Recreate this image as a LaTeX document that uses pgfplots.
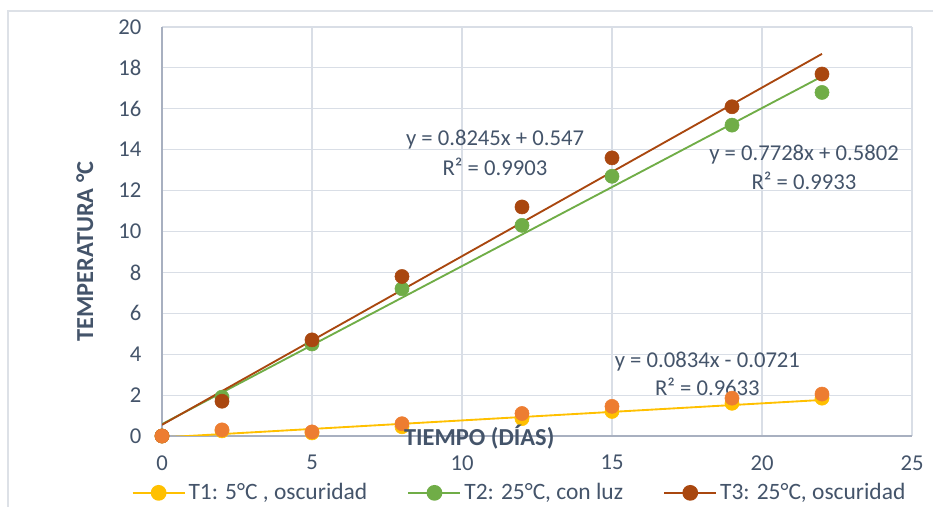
\documentclass[border=0pt]{standalone}
\usepackage{fontspec}
\setmainfont{Carlito}
\usepackage{pgfplots}
\pgfplotsset{compat=1.18}
\definecolor{cyellow}{HTML}{FFC000}
\definecolor{corange}{HTML}{ED7D31}
\definecolor{cgreen}{HTML}{70AD47}
\definecolor{cbrown}{HTML}{A9470F}
\definecolor{ctext}{HTML}{44546A}
\definecolor{cgrid}{HTML}{D9DEE6}
\definecolor{caxis}{HTML}{A8B0C0}
\definecolor{cframe}{HTML}{DDE1E7}
\begin{document}
\begin{tikzpicture}
\useasboundingbox (0,0) rectangle (699.75pt,380.25pt);
\draw[color=cframe, line width=0.8pt] (6pt,-5pt) -- (6pt,372pt) -- (710pt,372pt);
\begin{axis}[
  at={(121.5pt,53.25pt)}, anchor=south west,
  scale only axis, width=562.5pt, height=306.75pt,
  xmin=0, xmax=25, ymin=0, ymax=20,
  xtick={0,5,...,25}, ytick={0,2,...,20},
  axis lines=left,
  axis line style={color=caxis, line width=0.8pt, -},
  major tick length=0pt,
  grid=major,
  major grid style={color=cgrid, line width=0.8pt},
  ticklabel style={font=\fontsize{17}{20}\selectfont, text=ctext},
  /pgf/number format/assume math mode=true,
  xticklabel style={yshift=-11pt},
  yticklabel style={xshift=-12pt},
  xlabel={\textbf{TIEMPO (DÍAS)}},
  xlabel style={at={(axis description cs:0.423,-0.003)}, anchor=center, font=\fontsize{18.3}{20}\selectfont, text=ctext},
  ylabel={\textbf{TEMPERATURA °C}},
  ylabel style={at={(axis description cs:-0.103,0.451)}, anchor=center, rotate=0, font=\fontsize{18.3}{20}\selectfont, text=ctext},
  legend style={at={(axis description cs:0.477,-0.139)}, anchor=center, draw=none, fill=none,
    font=\fontsize{17.6}{20}\selectfont, text=ctext, /tikz/every even column/.append style={column sep=28pt}},
  legend columns=3,
  legend image code/.code={\draw[mark repeat=2,mark phase=2] plot coordinates {(0pt,0pt) (19.5pt,0pt) (39pt,0pt)};},
]
% markers
\addplot[only marks, mark=*, mark size=5.3pt, color=cyellow, forget plot] coordinates {
(0,0) (2,0.25) (5,0.15) (8,0.45) (12,0.85) (15,1.2) (19,1.6) (22,1.85)};
\addplot[only marks, mark=*, mark size=5.3pt, color=cgreen, forget plot] coordinates {
(0,0) (2,1.9) (5,4.5) (8,7.2) (12,10.3) (15,12.7) (19,15.2) (22,16.8)};
\addplot[only marks, mark=*, mark size=5.3pt, color=cbrown, forget plot] coordinates {
(0,0) (2,1.7) (5,4.7) (8,7.8) (12,11.2) (15,13.6) (19,16.1) (22,17.7)};
\addplot[only marks, mark=*, mark size=5.3pt, color=corange, forget plot] coordinates {
(0,0) (2,0.3) (5,0.2) (8,0.6) (12,1.1) (15,1.45) (19,1.85) (22,2.05)};
% trendlines
\addplot[color=cyellow, line width=1.4pt, forget plot] coordinates {(0,-0.0721) (22,1.7627)};
\addplot[color=cgreen, line width=1.4pt, forget plot] coordinates {(0,0.5802) (22,17.5818)};
\addplot[color=cbrown, line width=1.4pt, forget plot] coordinates {(0,0.547) (22,18.686)};
% legend
\addlegendimage{color=cyellow, line width=1.8pt, mark=*, mark size=5pt}
\addlegendentry{T1: 5°C , oscuridad}
\addlegendimage{color=cgreen, line width=1.8pt, mark=*, mark size=5pt}
\addlegendentry{T2: 25°C, con luz}
\addlegendimage{color=cbrown, line width=1.8pt, mark=*, mark size=5pt}
\addlegendentry{T3: 25°C, oscuridad}
% equations
\node[align=center, text=ctext, font=\fontsize{17}{22.5}\selectfont] at (axis cs:11.1,13.84) {y = 0.8245x + 0.547\\R² = 0.9903};
\node[align=center, text=ctext, font=\fontsize{17}{22}\selectfont] at (axis cs:21.4,13.13) {y = 0.7728x + 0.5802\\R² = 0.9933};
\node[align=center, text=ctext, font=\fontsize{17}{21}\selectfont] at (axis cs:18.18,3.03) {y = 0.0834x - 0.0721\\R² = 0.9633};
\end{axis}
\end{tikzpicture}
\end{document}
